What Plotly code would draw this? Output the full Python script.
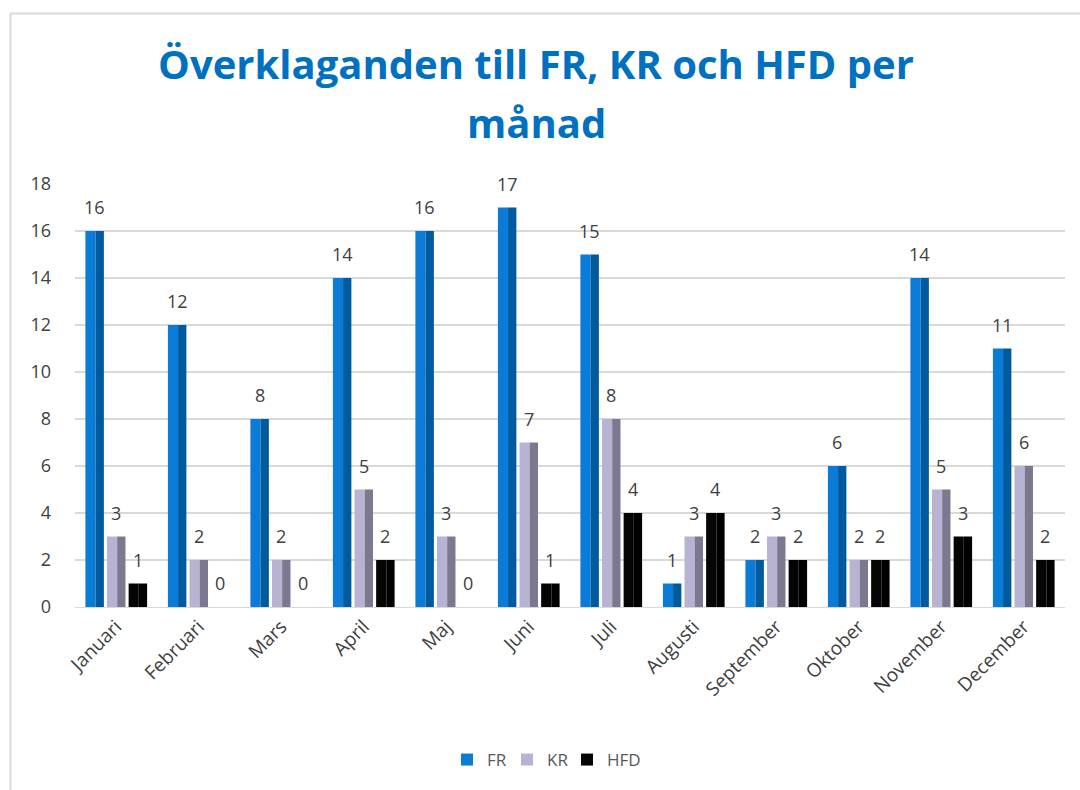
import plotly.graph_objects as go

months = ["Januari", "Februari", "Mars", "April", "Maj", "Juni", "Juli",
          "Augusti", "September", "Oktober", "November", "December"]
fr = [16, 12, 8, 14, 16, 17, 15, 1, 2, 6, 14, 11]
kr = [3, 2, 2, 5, 3, 7, 8, 3, 3, 2, 5, 6]
hfd = [1, 0, 0, 2, 0, 1, 4, 4, 2, 2, 3, 2]
series_names = ["FR", "KR", "HFD"]

series = [fr, kr, hfd]
light = ["#0A7BD6", "#B7B3D3", "#050505"]
dark = ["#005A9E", "#7B7890", "#000000"]
centers = [-0.262, 0.0, 0.262]
legend_ids = ["legend", "legend2", "legend3"]
legend_left = [447, 507, 567]
bw = 0.224

W, H = 1080, 790
L, R, T, B = 75, 15, 184, 183
pw, ph = W - L - R, H - T - B

fig = go.Figure()
annotations = []
for name, vals, lc, dc, c, lg in zip(series_names, series, light, dark, centers,
                                     legend_ids):
    fig.add_trace(go.Bar(x=months, y=vals, name=name, marker_color=lc,
                         marker_line_width=0, offset=c - bw / 2, width=bw * 0.55,
                         legendgroup=name, showlegend=True, legend=lg,
                         hoverinfo="skip"))
    fig.add_trace(go.Bar(x=months, y=vals, name=name, marker_color=dc,
                         marker_line_width=0, offset=c - bw / 2 + bw * 0.55,
                         width=bw * 0.45, legendgroup=name, showlegend=False))
    for i, v in enumerate(vals):
        annotations.append(dict(x=i + c, y=v, xref="x", yref="y", text=str(v),
                                showarrow=False, yshift=24, xanchor="center",
                                yanchor="middle",
                                font=dict(size=18, color="#404040",
                                          family="Open Sans, sans-serif")))

annotations.append(dict(text="<b>månad</b>", xref="paper", yref="paper",
                        x=(536 - L) / pw, y=(H - B - 122) / ph, xanchor="center",
                        yanchor="middle", showarrow=False,
                        font=dict(family="Open Sans, sans-serif", size=40,
                                  color="#0070C0")))

legend_style = dict(orientation="h", xanchor="left", y=(H - B - 760) / ph,
                    yanchor="middle", font=dict(size=17, color="#595959"),
                    itemwidth=30, bgcolor="rgba(0,0,0,0)")

fig.update_layout(
    width=W, height=H,
    barmode="overlay",
    paper_bgcolor="white", plot_bgcolor="white",
    margin=dict(l=L, r=R, t=T, b=B),
    title=dict(text="Överklaganden till FR, KR och HFD per",
               x=536 / W, xanchor="center", y=1 - 65 / H, yanchor="middle",
               font=dict(family="Open Sans, sans-serif", size=40, color="#0070C0",
                         weight="bold")),
    annotations=annotations,
    font=dict(family="Open Sans, sans-serif", color="#404040"),
    xaxis=dict(tickangle=-45, tickfont=dict(size=19, color="#404040"),
               showgrid=False, showline=True, linecolor="#D9D9D9", linewidth=1,
               ticks=""),
    yaxis=dict(range=[0, 18], dtick=2, showgrid=True, gridcolor="#D9D9D9",
               gridwidth=1.5, zeroline=False, tickfont=dict(size=18, color="#404040"),
               showline=False, ticks="", ticklabelstandoff=23),
    legend=dict(x=(legend_left[0] - L) / pw, **legend_style),
    legend2=dict(x=(legend_left[1] - L) / pw, **legend_style),
    legend3=dict(x=(legend_left[2] - L) / pw, **legend_style),
    bargap=0.24,
    shapes=[dict(type="rect", xref="paper", yref="paper",
                 x0=(10.5 - L) / pw, x1=(1090 - L) / pw,
                 y0=(H - B - 800) / ph, y1=(H - B - 13.5) / ph,
                 line=dict(color="#D9D9D9", width=2), fillcolor="rgba(0,0,0,0)",
                 layer="below")],
)

fig.write_html("out.html", config={"displayModeBar": False},
               post_script="document.body.style.margin='0';"
                           "document.documentElement.style.overflow='hidden';")
